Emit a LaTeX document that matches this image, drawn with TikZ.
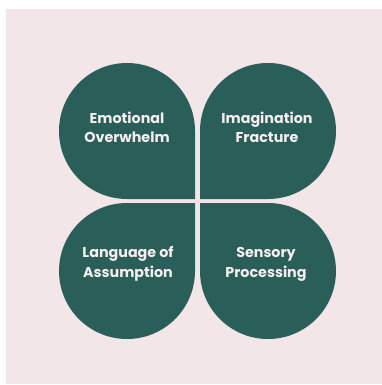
\documentclass[tikz,border=0pt]{standalone}
\usepackage{fontspec}
\newfontfamily\petalfont{Poppins}[UprightFont=* Bold, BoldFont=* ExtraBold]
\definecolor{petalgreen}{RGB}{42,94,88}
\definecolor{blush}{RGB}{243,230,233}
\definecolor{petaltext}{RGB}{246,238,240}
\tikzset{
  petal/.pic={
    \fill[petalgreen] (0,0) -- (0,68) arc[start angle=0, end angle=270, radius=68] -- cycle;
  },
  label/.style={text=petaltext, font=\petalfont\fontsize{14.3}{19.5}\selectfont,
    align=center, inner sep=0pt}
}
\begin{document}
\begin{tikzpicture}[x=1pt,y=1pt]
  \useasboundingbox (0,0) rectangle (382,-385);
  \fill[white] (0,0) rectangle (382,-385);
  \fill[blush] (6,-9) rectangle (382,-384);

  % four petals meeting with their sharp corners at the centre
  \pic at (195,-199) {petal};
  \pic[rotate=-90] at (200,-199) {petal};
  \pic[rotate=90] at (195,-203) {petal};
  \pic[rotate=180] at (200,-203) {petal};

  \node[label] (emo) at (127,-127.5) {Emotional\\Overwhelm};
  \node[label] (ima) at (267,-127.5) {Imagination\\Fracture};
  \node[label] (lan) at (128,-264) {Language of\\Assumption};
  \node[label] (sen) at (266,-264.5) {Sensory\\Processing};
\end{tikzpicture}
\end{document}
